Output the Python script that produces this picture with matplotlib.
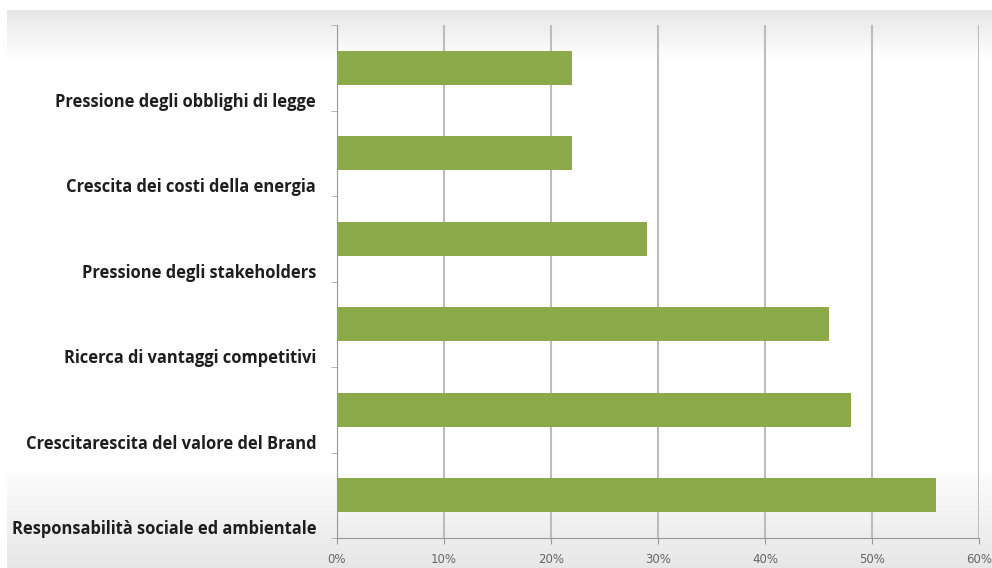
import numpy as np
import matplotlib
matplotlib.use("Agg")
import matplotlib.pyplot as plt
import matplotlib.transforms as mtransforms
from matplotlib.ticker import PercentFormatter

# data (top to bottom as shown)
categories = [
    "Pressione degli obblighi di legge",
    "Crescita dei costi della energia",
    "Pressione degli stakeholders",
    "Ricerca di vantaggi competitivi",
    "Crescitarescita del valore del Brand",
    "Responsabilità sociale ed ambientale",
]
values = [22, 22, 29, 46, 48, 56]
x_ticks = [0, 10, 20, 30, 40, 50, 60]

W, H = 992, 568
fig = plt.figure(figsize=(W / 100, H / 100), dpi=100)
fig.patch.set_facecolor("white")

# background panel with soft gray gradients top and bottom
bg = fig.add_axes([7 / W, 0, 1 - 7 / W, 1 - 10 / H], zorder=-5)
rows = np.arange(558)
shade = np.interp(rows, [0, 50, 462, 463, 558], [0.90, 1.0, 1.0, 0.985, 0.90])
bg.imshow(shade[:, None], cmap="gray", vmin=0, vmax=1, aspect="auto",
          extent=[0, 1, 0, 1], origin="upper")
bg.axis("off")

ax = fig.add_axes([337 / W, 1 - 538 / H, (979 - 337) / W, (538 - 25) / H])
ax.patch.set_alpha(0)

ypos = np.arange(len(categories))
ax.barh(ypos, values, height=0.4, color="#8DAA4B", zorder=3)
ax.set_ylim(len(categories) - 0.5, -0.5)
ax.set_xlim(0, 60)

ax.set_xticks(x_ticks)
ax.xaxis.set_major_formatter(PercentFormatter(decimals=0))
ax.tick_params(axis="x", length=4, color="#999999", labelsize=8.5,
               labelcolor="#666666", pad=7)
ax.xaxis.grid(True, color="#bdbdbd", lw=1.5, zorder=0)
ax.set_axisbelow(True)

# category labels, shifted down toward the slot boundary
ax.set_yticks(ypos)
ax.set_yticklabels(categories, fontsize=11.9, fontweight="bold",
                   family=["Open Sans", "DejaVu Sans"], color="#1e1e1e")
ax.tick_params(axis="y", length=0, pad=15)
shift = mtransforms.ScaledTranslation(0, -0.32, fig.dpi_scale_trans)
for lab in ax.get_yticklabels():
    lab.set_transform(lab.get_transform() + shift)
ax.set_yticks(np.arange(len(categories) + 1) - 0.5, minor=True)
ax.tick_params(axis="y", which="minor", length=4, color="#aaaaaa")

for s in ["top", "right"]:
    ax.spines[s].set_visible(False)
ax.spines["left"].set_color("#999999")
ax.spines["bottom"].set_color("#999999")

fig.savefig("out.png", dpi=100)
